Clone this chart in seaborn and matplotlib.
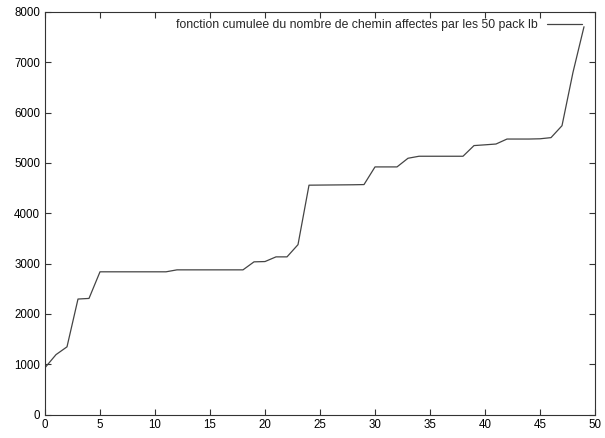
import seaborn as sns
import matplotlib.pyplot as plt
import pandas as pd

# nombre cumule de chemins affectes, pack lb 0..49
packs = list(range(50))
chemins = [930, 1190, 1345, 2295, 2307, 2836, 2836, 2836, 2836, 2836,
           2836, 2836, 2875, 2875, 2875, 2875, 2875, 2875, 2875, 3034,
           3040, 3133, 3133, 3376, 4558, 4560, 4562, 4564, 4566, 4570,
           4921, 4921, 4921, 5093, 5133, 5133, 5133, 5133, 5133, 5345,
           5360, 5376, 5475, 5475, 5475, 5480, 5503, 5740, 6802, 7707]
label = 'fonction cumulee du nombre de chemin affectes par les 50 pack lb'

df = pd.DataFrame({'pack': packs, 'chemins': chemins})

sns.set_style('ticks')
plt.rcParams['font.family'] = ['Liberation Sans', 'DejaVu Sans']

fig = plt.figure(figsize=(6.05, 4.38), dpi=100)
ax = fig.add_axes([45 / 605, 1 - 414.5 / 438, 550 / 605, 402.5 / 438])

sns.lineplot(data=df, x='pack', y='chemins', ax=ax, color='#444444',
             linewidth=0.9, label=label)

ax.set_xlim(0, 50)
ax.set_ylim(0, 8000)
ax.set_xticks(range(0, 51, 5))
ax.set_yticks(range(0, 8001, 1000))
ax.set_xlabel('')
ax.set_ylabel('')
ax.tick_params(direction='in', length=4, width=0.8, labelsize=8.3,
               top=True, right=True, colors='#333333', labelcolor='black')
for s in ax.spines.values():
    s.set_linewidth(0.8)
    s.set_color('#333333')

ax.legend(loc='upper right', bbox_to_anchor=(1 - 6 / 550, 1), frameon=False,
          markerfirst=False, fontsize=8.8, handlelength=2.8,
          borderaxespad=0.2, handletextpad=0.8)

fig.savefig('out.png', dpi=100)
